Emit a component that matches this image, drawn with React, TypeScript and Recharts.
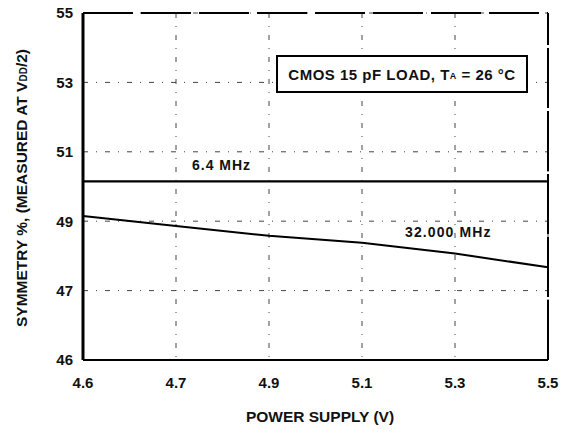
import React from 'react';
import { LineChart, Line, XAxis, YAxis, CartesianGrid, ReferenceLine } from 'recharts';

// supply voltage points (V)
const supply = [4.5, 4.7, 4.9, 5.1, 5.3, 5.5];
// symmetry % at each supply point
const sym6M4 = [50.15, 50.15, 50.15, 50.15, 50.15, 50.15];
const sym32M = [49.15, 48.86, 48.58, 48.38, 48.07, 47.67];

const xTicks = [4.5, 4.7, 4.9, 5.1, 5.3, 5.5];
const xTickLabels = ['4.6', '4.7', '4.9', '5.1', '5.3', '5.5'];
const yTicks = [45, 47, 49, 51, 53, 55];
const yTickLabels = ['46', '47', '49', '51', '53', '55'];

const data = supply.map((v, i) => ({ v, a: sym6M4[i], b: sym32M[i] }));

const FONT = '"Liberation Sans", Arial, sans-serif';
const tickStyle = { fontFamily: FONT, fontSize: 15, fontWeight: 700, fill: '#111' };

const App: React.FC = () => {
  return (
    <div style={{ position: 'absolute', left: 0, top: 0, width: 571, height: 446, background: '#fff', fontFamily: FONT }}>
      <LineChart width={571} height={446} data={data} margin={{ top: 13, right: 23, bottom: 0, left: 0 }}>
        <CartesianGrid stroke="#444" strokeDasharray="5 8 1 8" strokeWidth={1} horizontalValues={yTicks} verticalValues={xTicks} />
        <XAxis
          dataKey="v"
          type="number"
          domain={[4.5, 5.5]}
          ticks={xTicks}
          tickFormatter={(t: number) => xTickLabels[xTicks.indexOf(t)] ?? String(t)}
          height={86}
          tickSize={0}
          tickMargin={17}
          axisLine={{ stroke: '#000', strokeWidth: 2 }}
          tick={tickStyle}
        />
        <YAxis
          type="number"
          domain={[45, 55]}
          ticks={yTicks}
          tickFormatter={(t: number) => yTickLabels[yTicks.indexOf(t)] ?? String(t)}
          width={83}
          tickSize={0}
          tickMargin={10}
          axisLine={{ stroke: '#000', strokeWidth: 3 }}
          tick={tickStyle}
        />
        <ReferenceLine y={55} stroke="#000" strokeWidth={2} strokeDasharray="50 8" />
        <ReferenceLine x={5.5} stroke="#000" strokeWidth={2} strokeDasharray="60 3" />
        <Line dataKey="a" stroke="#000" strokeWidth={2.2} dot={false} isAnimationActive={false} />
        <Line dataKey="b" stroke="#000" strokeWidth={2} dot={false} isAnimationActive={false} />
      </LineChart>

      <div
        style={{
          position: 'absolute', left: 276, top: 55, width: 252, height: 38, boxSizing: 'border-box',
          border: '2px solid #000', background: '#fff', display: 'flex', alignItems: 'center', justifyContent: 'center',
          fontSize: 15, fontWeight: 700, letterSpacing: 0.5, color: '#111', whiteSpace: 'nowrap',
        }}
      >
        CMOS 15 pF LOAD, T<span style={{ fontSize: 9, position: 'relative', top: 2 }}>A</span>&nbsp;= 26 °C
      </div>

      <div style={{ position: 'absolute', left: 192, top: 157, fontSize: 14, fontWeight: 700, letterSpacing: 1, color: '#111', whiteSpace: 'nowrap' }}>6.4 MHz</div>
      <div style={{ position: 'absolute', left: 405, top: 224, fontSize: 14, fontWeight: 700, letterSpacing: 1.1, color: '#111', whiteSpace: 'nowrap' }}>32.000 MHz</div>

      <div
        style={{
          position: 'absolute', left: 22, top: 188, transform: 'translate(-50%, -50%) rotate(-90deg)',
          fontSize: 15.5, fontWeight: 700, color: '#111', whiteSpace: 'nowrap',
        }}
      >
        SYMMETRY %, (MEASURED AT V<span style={{ fontSize: 10 }}>DD</span>/2)
      </div>

      <div
        style={{
          position: 'absolute', left: 320, top: 417, transform: 'translate(-50%, -50%)',
          fontSize: 15.5, fontWeight: 700, color: '#111', whiteSpace: 'nowrap',
        }}
      >
        POWER SUPPLY (V)
      </div>
    </div>
  );
};

export default App;
